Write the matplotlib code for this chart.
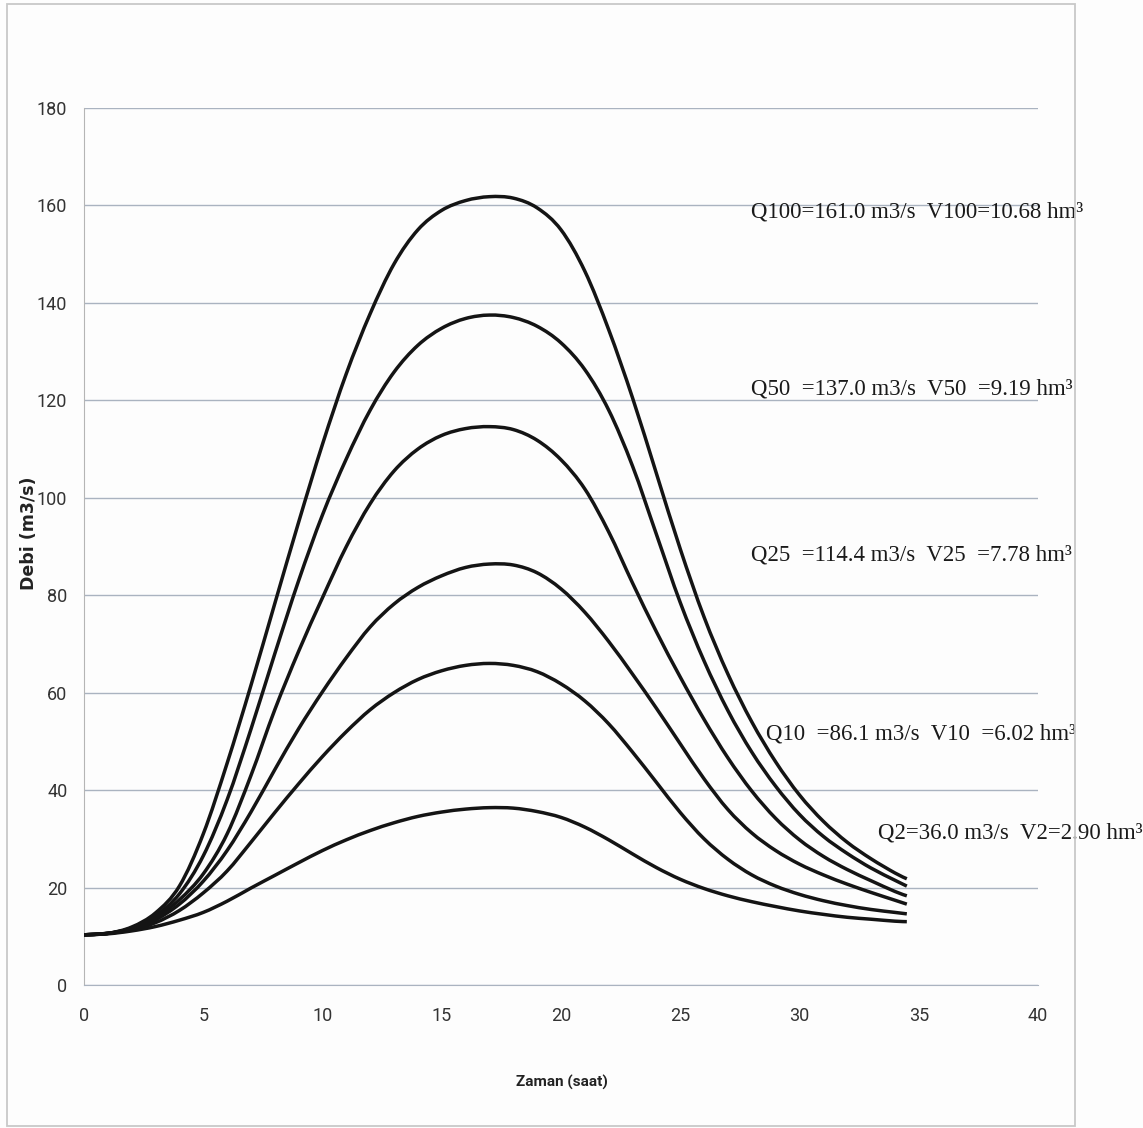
import numpy as np
import matplotlib
matplotlib.use('Agg')
import matplotlib.pyplot as plt
from matplotlib.patches import Rectangle, PathPatch
from matplotlib.path import Path

## Hydrograph values (time in hours, discharge in m3/s)
zaman = [0, 1, 2, 3, 4, 5, 6, 7, 8, 9, 10, 11, 12, 13, 14, 15, 16, 17, 18, 19,
         20, 21, 22, 23, 24, 25, 26, 27, 28, 29, 30, 31, 32, 33, 34, 34.5]

q100 = [10.3, 10.6, 11.9, 14.8, 20.3, 31.0, 45.5, 61.5, 78.3, 95.0, 111.0, 125.5,
        137.8, 148.0, 155.0, 159.0, 161.0, 161.8, 161.5, 159.5, 155.0, 146.5, 134.5,
        120.5, 105.0, 89.5, 75.5, 63.8, 54.0, 45.8, 39.0, 33.6, 29.3, 25.9, 23.0, 21.8]
q50 = [10.3, 10.6, 11.7, 14.2, 18.7, 26.5, 38.0, 52.5, 68.0, 83.0, 96.5, 108.0,
       118.0, 125.8, 131.3, 134.8, 136.8, 137.5, 137.0, 135.2, 131.8, 126.3, 118.0,
       106.5, 92.5, 78.5, 66.5, 56.3, 47.8, 40.8, 35.0, 30.5, 27.0, 24.0, 21.5, 20.3]
q25 = [10.3, 10.6, 11.6, 13.8, 17.5, 22.8, 31.0, 43.0, 56.5, 68.5, 79.5, 90.0,
       98.8, 105.5, 110.0, 112.8, 114.2, 114.6, 114.0, 111.8, 107.8, 101.8, 93.0,
       82.5, 72.5, 63.2, 54.5, 46.6, 39.8, 34.2, 29.8, 26.4, 23.7, 21.4, 19.2, 18.3]
q10 = [10.3, 10.6, 11.5, 13.4, 16.6, 21.3, 27.6, 35.5, 44.2, 52.6, 60.2, 67.2,
       73.5, 78.2, 81.6, 84.0, 85.7, 86.4, 86.2, 84.6, 81.3, 76.5, 70.5, 63.8,
       56.8, 49.5, 42.3, 36.0, 31.2, 27.6, 24.8, 22.6, 20.7, 19.0, 17.4, 16.6]
q5 = [10.3, 10.6, 11.3, 12.8, 15.3, 18.9, 23.4, 29.3, 35.4, 41.3, 46.9, 52.0,
      56.5, 60.0, 62.7, 64.5, 65.6, 66.0, 65.6, 64.3, 61.8, 58.3, 53.6, 47.8,
      41.6, 35.4, 30.0, 25.8, 22.6, 20.3, 18.6, 17.3, 16.3, 15.5, 14.9, 14.6]
q2 = [10.3, 10.5, 11.1, 12.0, 13.3, 14.9, 17.2, 19.9, 22.5, 25.1, 27.6, 29.8,
      31.7, 33.3, 34.6, 35.5, 36.1, 36.4, 36.3, 35.6, 34.4, 32.4, 29.8, 26.9,
      24.1, 21.7, 19.8, 18.3, 17.1, 16.1, 15.2, 14.5, 13.9, 13.5, 13.1, 13.0]

## Labels written next to the curves
etiketler = ['Q100=161.0 m3/s  V100=10.68 hm\u00b3',
             'Q50  =137.0 m3/s  V50  =9.19 hm\u00b3',
             'Q25  =114.4 m3/s  V25  =7.78 hm\u00b3',
             'Q10  =86.1 m3/s  V10  =6.02 hm\u00b3',
             'Q2=36.0 m3/s  V2=2.90 hm\u00b3']
etiket_x = [27.95, 27.95, 27.95, 28.6, 33.3]
etiket_y = [158.7, 122.3, 88.3, 51.6, 31.2]

y_ticks = [0, 20, 40, 60, 80, 100, 120, 140, 160, 180]
x_ticks = [0, 5, 10, 15, 20, 25, 30, 35, 40]

tick_font = ['Roboto', 'DejaVu Sans']
grid_col = '#aab3c0'


def smooth_line(x, y):
    # Excel style "smoothed line": cubic bezier pieces through every point
    pts = np.column_stack([x, y]).astype(float)
    verts = [pts[0]]
    codes = [Path.MOVETO]
    n = len(pts)
    for i in range(n - 1):
        p0 = pts[i - 1] if i > 0 else pts[i]
        p1 = pts[i]
        p2 = pts[i + 1]
        p3 = pts[i + 2] if i + 2 < n else pts[i + 1]
        verts += [p1 + (p2 - p0) / 6., p2 - (p3 - p1) / 6., p2]
        codes += [Path.CURVE4] * 3
    return Path(verts, codes)


fig = plt.figure(figsize=(11.43, 11.28), dpi=100)
fig.patch.set_facecolor('#fdfdfd')
ax = fig.add_axes([84/1143, 1 - 985/1128, (1038 - 84)/1143, (985 - 108)/1128])
ax.set_facecolor('none')

for q in [q100, q50, q25, q10, q5, q2]:
    ax.add_patch(PathPatch(smooth_line(zaman, q), fill=False, edgecolor='#141414',
                           lw=2.5, capstyle='butt', zorder=3))

for txt, tx, ty in zip(etiketler, etiket_x, etiket_y):
    ax.text(tx, ty, txt, fontsize=16.5, family='Liberation Serif', color='#1a1a1a',
            va='center', ha='left', clip_on=False, zorder=4)

ax.set_xlim(0, 40)
ax.set_ylim(0, 180)
ax.set_xticks(x_ticks)
ax.set_yticks(y_ticks)
ax.yaxis.grid(True, color=grid_col, lw=1.0)
ax.set_axisbelow(True)
for s in ['top', 'right']:
    ax.spines[s].set_visible(False)
ax.spines['left'].set_color('#b5b5b5')
ax.spines['bottom'].set_color(grid_col)
ax.tick_params(axis='both', length=0, labelsize=13, labelcolor='#333333')
ax.tick_params(axis='y', pad=12)
ax.tick_params(axis='x', pad=16)
for lab in ax.get_xticklabels() + ax.get_yticklabels():
    lab.set_family(tick_font)

fig.text(562/1143, 1 - 1082/1128, 'Zaman (saat)', ha='center', va='center',
         fontsize=11, fontweight='bold', family=tick_font, color='#222222')
fig.text(29/1143, 1 - 533/1128, 'Debi (m3/s)', ha='center', va='center',
         rotation=90, fontsize=12.5, fontweight='bold', color='#222222')

## Outer frame of the scanned chart
fig.add_artist(Rectangle((7/1143, 1 - 1126/1128), (1075 - 7)/1143, (1126 - 4)/1128,
                         transform=fig.transFigure, fill=False, edgecolor='#c8c8c8', lw=1.3))

fig.savefig('out.png', dpi=100)
